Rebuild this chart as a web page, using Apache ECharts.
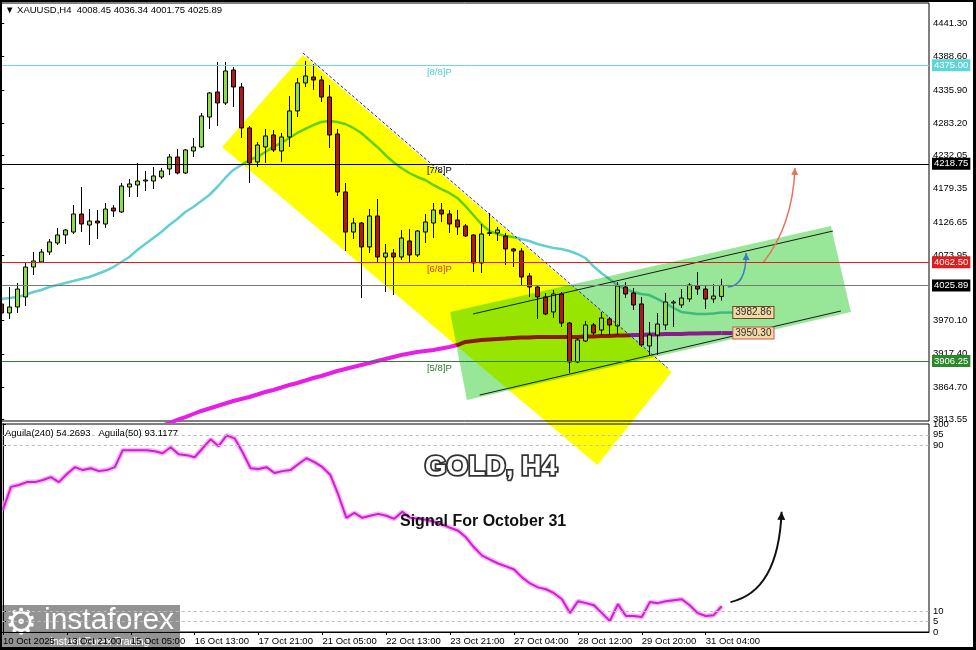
<!DOCTYPE html>
<html><head><meta charset="utf-8">
<script src="https://cdn.jsdelivr.net/npm/echarts@6/dist/echarts.min.js"></script>
<style>
html,body{margin:0;padding:0;background:#fff;}
#wrap{position:relative;width:976px;height:650px;overflow:hidden;}
#chart{width:976px;height:650px;}
#frame{position:absolute;left:0;top:0;width:976px;height:650px;box-sizing:border-box;border:2px solid #000;border-right-width:3px;border-bottom-width:3px;pointer-events:none;}
</style></head><body>
<div id="wrap"><div id="chart"></div><div id="frame"></div></div>
<script>
// ---------- DATA ----------
const xTickBars = [0, 8, 16, 24, 32, 40, 48, 56, 64, 72, 80, 88];
const xTickLabels = ['10 Oct 2025', '13 Oct 21:00', '15 Oct 05:00', '16 Oct 13:00', '17 Oct 21:00', '21 Oct 05:00',
  '22 Oct 13:00', '23 Oct 21:00', '27 Oct 04:00', '28 Oct 12:00', '29 Oct 20:00', '31 Oct 04:00'];
const priceTicks = [4441.30, 4388.60, 4335.90, 4283.20, 4232.05, 4179.35, 4126.65, 4073.95, 3970.10, 3917.40, 3864.70, 3813.55];
const aguilaTicks = [100, 95, 90, 10, 5, 0];

const candleOpen = [3996.5,3982.2,3991.7,4007.6,4055.1,4063.1,4078.9,4093.2,4105.9,4110.6,
  4139.2,4121.7,4128.1,4123.3,4148.7,4142.4,4182.0,4185.2,4191.5,4191.5,
  4197.9,4210.6,4229.6,4204.2,4239.1,4245.5,4293.0,4332.7,4315.2,4367.6,
  4340.6,4275.6,4221.7,4245.5,4264.5,4239.1,4261.3,4302.6,4347.0,4356.5,
  4351.7,4324.7,4266.1,4174.1,4110.6,4124.9,4086.9,4136.0,4071.0,4077.3,
  4071.0,4096.4,4074.2,4110.6,4124.9,4145.5,4139.2,4129.7,4120.2,4105.9,
  4061.5,4108.5,4109.1,4104.3,4083.7,4080.5,4040.9,4023.4,4007.6,3983.8,
  4012.3,3966.3,3904.5,3937.8,3963.2,3955.2,3972.7,3961.6,4023.4,4013.9,
  3996.5,3929.8,3947.3,3963.2,3998.0,3994.9,4004.4,4025.0,4020.2,4004.4,4008.45];
const candleClose = [3982.2,3991.7,4020.2,4055.1,4064.7,4078.9,4094.8,4105.9,4113.8,4139.2,
  4123.3,4128.1,4124.9,4147.1,4144.0,4183.6,4186.8,4191.5,4193.1,4199.5,
  4207.4,4229.6,4204.2,4240.7,4245.5,4294.6,4331.1,4315.2,4366.0,4340.6,
  4275.6,4220.1,4248.6,4262.9,4240.7,4261.3,4302.6,4347.0,4358.1,4351.7,
  4324.7,4264.5,4174.1,4110.6,4124.9,4086.9,4136.0,4071.0,4077.3,4071.0,
  4101.1,4074.2,4112.2,4126.5,4145.5,4139.2,4123.3,4118.6,4104.3,4061.5,
  4107.5,4109.5,4113.8,4083.7,4080.5,4039.3,4023.4,4007.6,3980.6,4012.3,
  3966.3,3904.5,3939.4,3963.2,3950.5,3974.3,3963.2,4025.0,4012.3,3994.9,
  3931.4,3947.3,3964.7,3999.6,3999.6,4006.0,4026.6,4020.2,4004.4,4009.1,4025.89];
const candleLow = [3977.4,3972.7,3982.2,3993.3,4042.4,4061.5,4074.2,4090.0,4091.6,4107.5,
  4110.6,4090.0,4099.5,4117.0,4134.4,4140.8,4166.2,4166.2,4175.7,4178.8,
  4194.7,4201.1,4202.0,4202.6,4229.6,4244.0,4274.0,4278.8,4312.1,4308.9,
  4259.7,4188.4,4213.7,4220.1,4237.5,4221.7,4245.5,4293.0,4340.6,4335.9,
  4316.8,4243.9,4167.7,4080.5,4099.5,4006.0,4077.3,4061.5,4015.5,4010.7,
  4066.2,4063.1,4071.0,4093.2,4101.1,4126.5,4109.0,4105.9,4102.7,4047.2,
  4045.6,4104.3,4096.4,4058.3,4055.1,4025.0,4007.6,3972.7,3979.0,3974.3,
  3960.0,3887.0,3902.9,3936.2,3947.3,3947.3,3947.3,3947.3,4006.0,3986.9,
  3928.3,3914.0,3915.6,3955.2,3960.0,3990.1,3999.6,4010.7,3988.5,3998.0,4001.75];
const candleHigh = [4002.8,4023.4,4029.8,4063.1,4078.9,4083.7,4099.5,4117.0,4115.4,4153.5,
  4182.0,4147.1,4145.5,4156.6,4153.5,4188.4,4194.7,4220.1,4207.4,4213.7,
  4212.2,4234.4,4242.3,4242.3,4259.7,4299.4,4332.7,4380.3,4380.3,4372.3,
  4347.0,4278.8,4253.4,4274.0,4272.4,4267.7,4326.3,4354.9,4381.9,4377.1,
  4358.1,4343.8,4274.0,4188.4,4132.9,4126.5,4147.1,4163.0,4091.6,4083.7,
  4113.8,4115.4,4113.8,4139.2,4156.6,4156.6,4145.5,4145.5,4123.3,4107.0,
  4123.3,4140.8,4118.6,4109.1,4085.3,4085.3,4045.6,4025.0,4013.9,4018.7,
  4015.5,3967.9,3942.5,3969.5,3966.3,3983.8,3975.9,4031.3,4031.3,4021.8,
  4007.6,3967.9,3982.2,4013.9,4002.8,4020.2,4029.8,4047.2,4026.6,4028.2,4036.34];

const ma21 = [4004.4,4006.0,4007.6,4010.7,4015.5,4018.7,4023.4,4026.6,4029.8,4032.9,
  4036.1,4039.3,4044.0,4048.8,4055.1,4063.1,4071.0,4082.1,4091.6,4101.1,
  4110.6,4121.7,4131.3,4142.4,4150.3,4159.8,4169.3,4182.0,4196.3,4209.0,
  4216.9,4224.8,4229.6,4237.5,4245.5,4251.8,4259.7,4267.7,4274.0,4280.3,
  4285.1,4286.7,4285.1,4281.9,4275.6,4267.7,4256.6,4245.5,4232.8,4221.7,
  4212.2,4204.2,4197.9,4193.1,4185.2,4178.8,4172.5,4164.6,4152.0,4137.6,
  4123.3,4112.2,4107.5,4104.3,4102.7,4099.5,4096.4,4091.6,4088.4,4085.3,
  4083.7,4080.5,4075.8,4069.4,4056.7,4045.6,4036.1,4026.6,4020.2,4015.5,
  4012.3,4010.7,4004.4,3998.0,3990.1,3983.8,3982.2,3980.6,3980.6,3981.4,3982.86];
const ma200 = [null,null,null,null,null,null,null,null,null,null,
  null,null,null,null,null,null,null,null,null,null,
  3803.0,3807.7,3812.5,3817.2,3822.0,3826.8,3830.7,3834.7,3838.7,3842.6,
  3845.8,3849.0,3852.9,3856.9,3860.1,3864.0,3868.0,3871.2,3875.1,3879.1,
  3882.3,3886.2,3890.2,3893.4,3896.5,3899.7,3902.9,3906.1,3909.2,3912.4,
  3915.6,3918.0,3920.4,3922.0,3923.5,3925.9,3928.3,3931.4,3936.2,3937.8,
  3939.4,3940.2,3941.0,3941.7,3942.5,3943.3,3943.3,3944.1,3944.1,3944.1,
  3944.1,3944.1,3944.1,3944.9,3944.9,3945.7,3945.7,3946.5,3946.5,3947.3,
  3947.3,3948.1,3948.1,3948.9,3948.9,3948.9,3949.7,3949.7,3950.0,3950.1,3950.30];
const aguila = [58.9,69.9,70.8,72.2,72.2,73.2,74.6,72.2,76.1,79.4,
  78.0,78.9,77.5,78.0,79.4,87.6,87.6,87.6,87.6,87.1,
  86.1,89.0,85.6,85.2,84.2,88.5,92.8,89.5,94.7,93.3,
  86.6,78.9,78.5,79.4,76.6,77.5,78.0,80.9,83.7,81.8,
  79.4,75.6,66.0,55.0,57.4,55.0,56.0,56.9,56.0,54.5,
  57.9,55.0,54.5,54.1,53.1,51.7,50.2,48.8,45.5,40.7,
  36.8,34.9,33.0,31.6,30.1,26.3,23.4,21.5,20.6,18.7,
  15.8,9.1,14.8,13.9,12.9,9.1,5.3,13.4,7.7,7.7,
  7.2,14.4,13.9,14.8,15.3,15.8,12.9,9.1,7.7,8.1,12.4];
const aguilaLevels = [95, 90, 10, 5];

const murreyLevels = [4375.00, 4218.75, 4062.50, 3906.25];
const murreyNames = ['[8/8]P', '[7/8]P', '[6/8]P', '[5/8]P'];
const lastPrice = 4025.89;
const maTagValues = [3982.86, 3950.30];

// drawings, in (bar index, price) space
const yellowBand = [[37.7, 4391.4], [83.8, 3888.6], [74.5, 3741.1], [27.6, 4245.5]];
const greenBand = [[56.1, 3983.8], [103.7, 4120.2], [106.2, 3983.8], [58.2, 3844.2]];
const channelUpper = [[58.96, 3980.6], [103.96, 4112.2]];
const channelLower = [[59.8, 3852.1], [104.96, 3985.4]];
const trendLine = [[37.7, 4394.5], [83.3, 3895.0]];
const arrowBlue = [[90.8, 4023.4], [93.1, 4025.0], [93.1, 4077.3]];
const arrowRed = [[95.2, 4061.5], [98.96, 4121.7], [99.2, 4212.2]];
const arrowBlack = [[91.1, 14.4], [97.1, 19.6], [97.5, 57.9]];

// ---------- CHART ----------
const FONT = '"Liberation Sans", Arial, sans-serif';
const X_MIN = -0.16, X_MAX = 115.96;
const chart = echarts.init(document.getElementById('chart'), null, {renderer: 'canvas'});

const candleData = candleOpen.map((o, i) => [i, o, candleClose[i], candleLow[i], candleHigh[i]]);

function arrowRender(pts, color, width, head) {
  return function (params, api) {
    const p0 = api.coord(pts[0]), c = api.coord(pts[1]), p1 = api.coord(pts[2]);
    let dx = p1[0] - c[0], dy = p1[1] - c[1];
    const len = Math.sqrt(dx * dx + dy * dy) || 1; dx /= len; dy /= len;
    const nx = -dy, ny = dx;
    return {type: 'group', children: [
      {type: 'bezierCurve', shape: {x1: p0[0], y1: p0[1], x2: p1[0], y2: p1[1], cpx1: c[0], cpy1: c[1]},
        style: {stroke: color, lineWidth: width, fill: null}},
      {type: 'polygon', shape: {points: [[p1[0], p1[1]],
        [p1[0] - dx * head + nx * head * 0.5, p1[1] - dy * head + ny * head * 0.5],
        [p1[0] - dx * head - nx * head * 0.5, p1[1] - dy * head - ny * head * 0.5]]},
        style: {fill: color}}
    ]};
  };
}

const levelColors = ['#6adcdc', '#000000', '#e01c1c', '#2f7d2f'];
const tagBg = ['#5fd6d6', '#000000', '#e01c1c', '#2a8a2a'];
const axisLabelBase = {color: '#000', fontSize: 9.5, fontFamily: FONT, hideOverlap: false, showMinLabel: true, showMaxLabel: true};

const option = {
  backgroundColor: '#ffffff',
  animation: false,
  grid: [
    {left: 0, top: 3, width: 929, height: 418, show: true, borderColor: '#000', borderWidth: 1},
    {left: 0, top: 424, width: 929, height: 208, show: true, borderColor: '#000', borderWidth: 1}
  ],
  xAxis: [
    {type: 'value', gridIndex: 0, min: X_MIN, max: X_MAX, show: false},
    {type: 'value', gridIndex: 1, min: X_MIN, max: X_MAX,
      axisLine: {show: true, lineStyle: {color: '#000'}},
      axisTick: {show: true, customValues: xTickBars, length: 3, lineStyle: {color: '#000'}},
      splitLine: {show: false},
      axisLabel: Object.assign({}, axisLabelBase, {customValues: xTickBars, align: 'left', margin: 4,
        formatter: v => xTickLabels[xTickBars.indexOf(Math.round(v))] || ''})}
  ],
  yAxis: [
    {type: 'value', gridIndex: 0, position: 'right', min: 3810.9, max: 4473.8,
      axisLine: {show: true, lineStyle: {color: '#000'}},
      axisTick: {show: true, customValues: priceTicks, length: 3, lineStyle: {color: '#000'}},
      splitLine: {show: false},
      axisLabel: Object.assign({}, axisLabelBase, {customValues: priceTicks, margin: 4, formatter: v => v.toFixed(2)})},
    {type: 'value', gridIndex: 1, position: 'right', min: 0, max: 100.2,
      axisLine: {show: true, lineStyle: {color: '#000'}},
      axisTick: {show: true, customValues: aguilaTicks, length: 3, lineStyle: {color: '#000'}},
      splitLine: {show: false},
      axisLabel: Object.assign({}, axisLabelBase, {customValues: aguilaTicks, margin: 4, formatter: v => String(v)})}
  ],
  series: [
    { // 21 MA + horizontal levels
      type: 'line', name: 'MA21', xAxisIndex: 0, yAxisIndex: 0, z: 1,
      data: ma21.map((v, i) => [i, v]), showSymbol: false, silent: true,
      lineStyle: {color: '#62d0d0', width: 2.5},
      markLine: {
        silent: true, symbol: ['none', 'none'], animation: false,
        data: murreyLevels.map((lv, i) => ({
          yAxis: lv, lineStyle: {color: levelColors[i], width: 1, type: 'solid'},
          label: {show: true, position: 'end', distance: 3, formatter: lv.toFixed(2), color: '#fff',
            backgroundColor: tagBg[i], padding: [1, 2, 1, 2], fontSize: 9.5, fontFamily: FONT}
        })).concat([{
          yAxis: lastPrice, lineStyle: {color: '#7a7a7a', width: 1, type: 'solid'},
          label: {show: true, position: 'end', distance: 3, formatter: lastPrice.toFixed(2), color: '#fff',
            backgroundColor: '#000', padding: [1, 2, 1, 2], fontSize: 9.5, fontFamily: FONT}
        }])
      }
    },
    {
      type: 'line', name: 'MA200', xAxisIndex: 0, yAxisIndex: 0, z: 1,
      data: ma200.map((v, i) => [i, v]).filter(d => d[1] !== null), showSymbol: false, silent: true,
      lineStyle: {color: '#e81ee8', width: 4}
    },
    { // MA end stubs
      type: 'custom', xAxisIndex: 0, yAxisIndex: 0, z: 1, silent: true, data: [0],
      renderItem: (params, api) => ({type: 'group', children: maTagValues.map((v, i) => {
        const a = api.coord([90, v]), b = api.coord([91.5, v]);
        return {type: 'line', shape: {x1: a[0], y1: a[1], x2: b[0], y2: b[1]},
          style: {stroke: i === 0 ? '#62d0d0' : '#e81ee8', lineWidth: i === 0 ? 2.5 : 4}};
      })})
    },
    { // overlays (multiply)
      type: 'custom', xAxisIndex: 0, yAxisIndex: 0, z: 2, silent: true, clip: false, data: [0],
      blendMode: 'multiply',
      renderItem: (params, api) => ({type: 'group', children: [
        {type: 'polygon', shape: {points: yellowBand.map(p => api.coord(p))}, style: {fill: '#ffff00'}},
        {type: 'polygon', shape: {points: greenBand.map(p => api.coord(p))}, style: {fill: '#98e698'}}
      ]})
    },
    {
      type: 'candlestick', name: 'XAUUSD', xAxisIndex: 0, yAxisIndex: 0, z: 3, silent: true,
      data: candleData, encode: {x: 0, y: [1, 2, 3, 4]}, barWidth: 5,
      itemStyle: {color: '#8fdc45', color0: '#b3161b', borderColor: '#000', borderColor0: '#000', borderWidth: 1}
    },
    { // channel lines + trend line
      type: 'custom', xAxisIndex: 0, yAxisIndex: 0, z: 4, silent: true, clip: false, data: [0],
      renderItem: (params, api) => ({type: 'group', children: [
        {type: 'polyline', shape: {points: channelUpper.map(p => api.coord(p))}, style: {stroke: '#1a1a1a', lineWidth: 1, fill: null}},
        {type: 'polyline', shape: {points: channelLower.map(p => api.coord(p))}, style: {stroke: '#1a1a1a', lineWidth: 1, fill: null}},
        {type: 'polyline', shape: {points: trendLine.map(p => api.coord(p))}, style: {stroke: '#23238c', lineWidth: 1, lineDash: [3, 2], fill: null}}
      ]})
    },
    {type: 'custom', xAxisIndex: 0, yAxisIndex: 0, z: 4, silent: true, clip: false, data: [0],
      renderItem: arrowRender(arrowBlue, '#3a7fc0', 1.5, 7)},
    {type: 'custom', xAxisIndex: 0, yAxisIndex: 0, z: 4, silent: true, clip: false, data: [0],
      renderItem: arrowRender(arrowRed, '#e8735a', 1.5, 7)},
    { // murrey labels
      type: 'custom', xAxisIndex: 0, yAxisIndex: 0, z: 5, silent: true, data: [0],
      renderItem: (params, api) => ({type: 'group', children: murreyLevels.map((lv, i) => {
        const p = api.coord([53.2, lv]);
        return {type: 'text', x: p[0], y: p[1] + 2,
          style: {text: murreyNames[i], fill: ['#4fd0d0', '#000', '#d2381c', '#2a7a2a'][i],
            font: '9.5px ' + FONT, align: 'left', verticalAlign: 'top', textAlign: 'left', textVerticalAlign: 'top'}};
      })})
    },
    { // MA value tags
      type: 'custom', xAxisIndex: 0, yAxisIndex: 0, z: 5, silent: true, data: [0],
      renderItem: (params, api) => ({type: 'group', children: maTagValues.map((v, i) => {
        const p = api.coord([91.5, v]);
        return {type: 'text', x: p[0], y: p[1],
          style: {text: v.toFixed(2), fill: '#2a2a2a', font: '10px ' + FONT, align: 'left', verticalAlign: 'middle',
            textAlign: 'left', textVerticalAlign: 'middle',
            backgroundColor: '#f2d9a6', borderColor: i === 0 ? '#6b4a2a' : '#c8584a', borderWidth: 1, padding: [1, 2, 0, 2]}};
      })})
    },
    { // Aguila halo
      type: 'line', xAxisIndex: 1, yAxisIndex: 1, z: 2, silent: true, showSymbol: false,
      data: aguila.map((v, i) => [i, v]), lineStyle: {color: 'rgba(240,160,240,0.75)', width: 5},
      markLine: {silent: true, symbol: ['none', 'none'], label: {show: false},
        lineStyle: {color: '#bdbdbd', type: [3, 3], width: 1},
        data: aguilaLevels.map(v => ({yAxis: v}))}
    },
    {
      type: 'line', name: 'Aguila', xAxisIndex: 1, yAxisIndex: 1, z: 3, silent: true, showSymbol: false,
      data: aguila.map((v, i) => [i, v]), lineStyle: {color: '#d21ed2', width: 2}
    },
    {type: 'custom', xAxisIndex: 1, yAxisIndex: 1, z: 4, silent: true, clip: false, data: [0],
      renderItem: arrowRender(arrowBlack, '#111', 2, 8)}
  ],
  graphic: [
    {type: 'text', left: 5, top: 5, z: 100, style: {text: '\u25BC XAUUSD,H4  4008.45 4036.34 4001.75 4025.89',
      font: '9.5px ' + FONT, fill: '#000'}},
    {type: 'text', left: 5, top: 428, z: 100, style: {text: 'Aguila(240) 54.2693   Aguila(50) 93.1177',
      font: '9.5px ' + FONT, fill: '#000'}},
    {type: 'text', left: 423, top: 452, z: 100, style: {text: 'GOLD, H4', font: 'bold 28px ' + FONT,
      fill: '#ffffff', stroke: '#333', lineWidth: 3.5, strokeFirst: true,
      shadowColor: 'rgba(0,0,0,0.7)', shadowBlur: 3, shadowOffsetX: 2, shadowOffsetY: 2}},
    {type: 'text', left: 400, top: 514, z: 100, style: {text: 'Signal For October 31', font: 'bold 16px ' + FONT,
      fill: '#111', shadowColor: 'rgba(0,0,0,0.45)', shadowBlur: 2, shadowOffsetX: 2, shadowOffsetY: 2}},
    {type: 'group', left: 0, top: 605, z: 100, children: [
      {type: 'rect', shape: {x: 0, y: 0, width: 180, height: 45}, style: {fill: 'rgba(135,135,135,0.9)'}},
      {type: 'text', x: 5, y: 2, style: {text: '\u2699', font: '36px "DejaVu Sans"', fill: '#fff'}},
      {type: 'text', x: 44, y: 1, style: {text: 'instaforex', font: '30px ' + FONT, fill: '#fff'}},
      {type: 'text', x: 50, y: 32, style: {text: 'Instant Forex Trading', font: '10.5px ' + FONT, fill: '#fff'}}
    ]}
  ]
};
chart.setOption(option);
</script></body></html>
